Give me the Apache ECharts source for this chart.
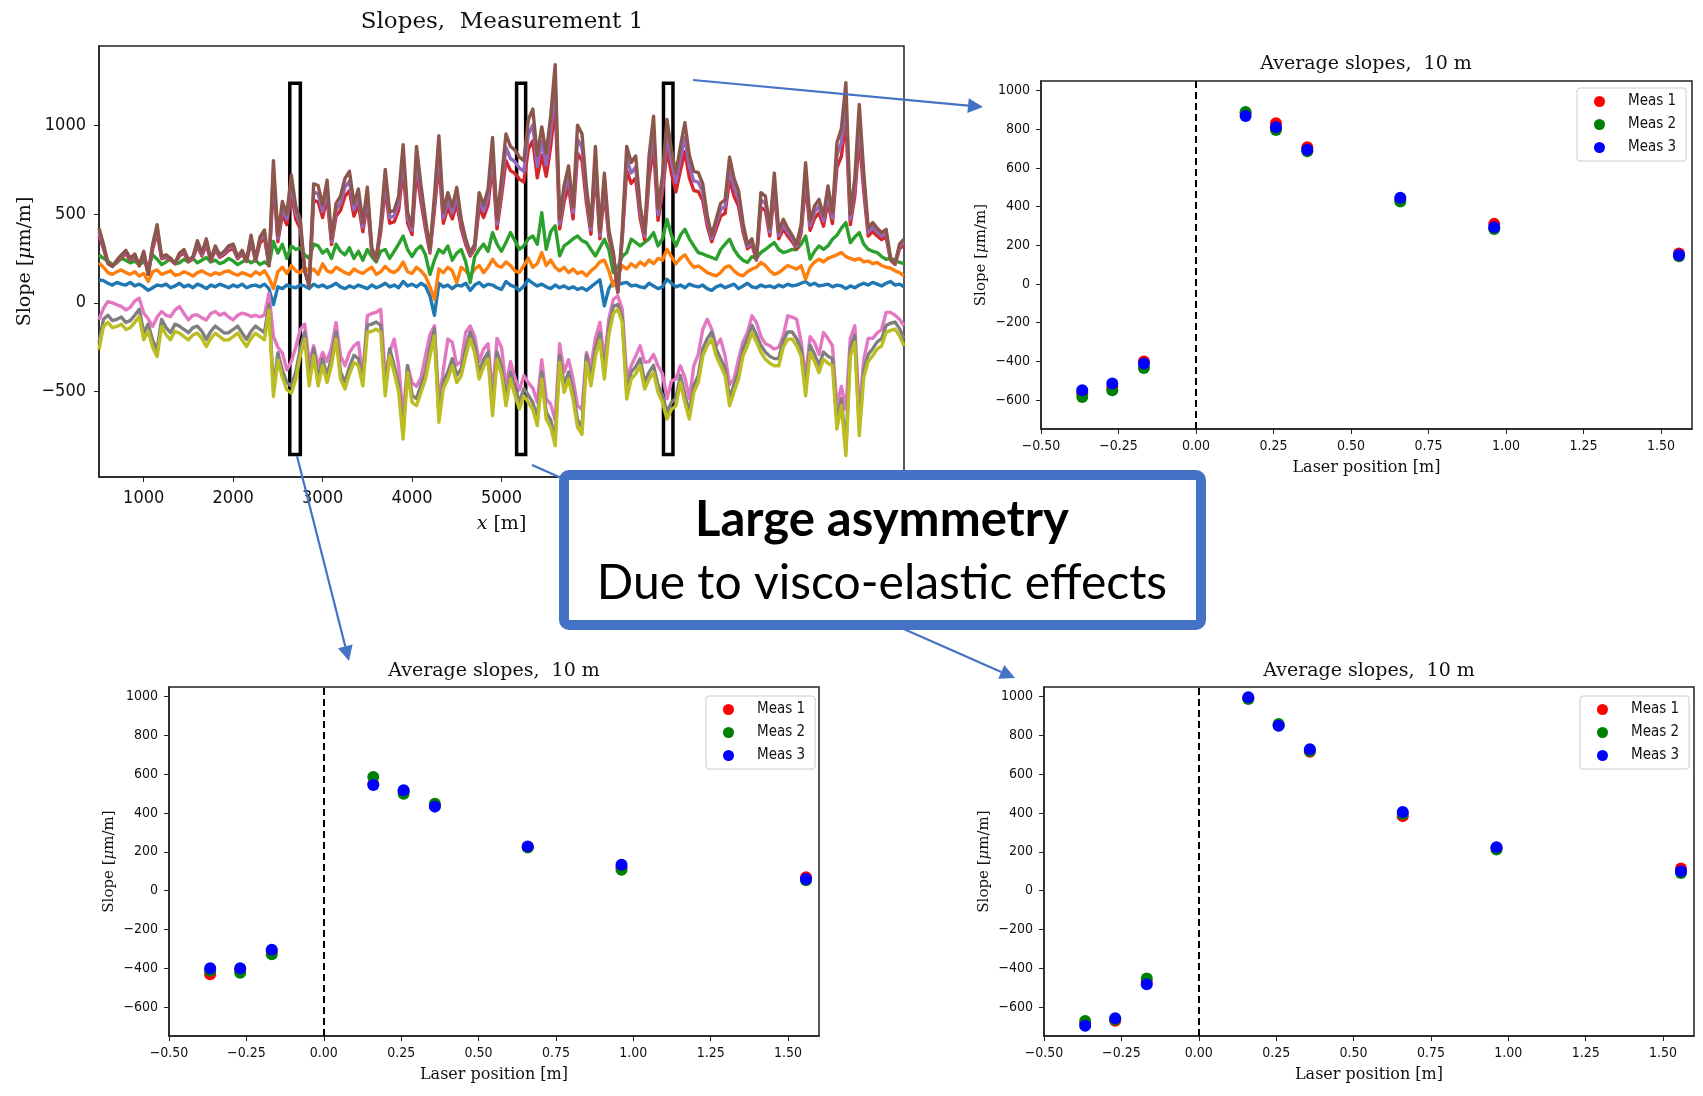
<!DOCTYPE html>
<html><head><meta charset="utf-8">
<script src="https://cdn.jsdelivr.net/npm/echarts@6/dist/echarts.min.js"></script>
<style>html,body{margin:0;padding:0;background:#fff}#c{width:1703px;height:1096px}</style>
</head><body><div id="c"></div>
<script>
// ---------- main chart data: position x [m], slope [µm/m] per laser ----------
const xs = [500,550,600,650,700,750,800,850,900,950,1000,1050,1100,1150,1200,1250,1300,1350,1400,1450,
1500,1550,1600,1650,1700,1750,1800,1850,1900,1950,2000,2050,2100,2150,2200,2250,2300,2350,2400,2450,
2500,2550,2600,2650,2700,2750,2800,2850,2900,2950,3000,3050,3100,3150,3200,3250,3300,3350,3400,3450,
3500,3550,3600,3650,3700,3750,3800,3850,3900,3950,4000,4050,4100,4150,4200,4250,4300,4350,4400,4450,
4500,4550,4600,4650,4700,4750,4800,4850,4900,4950,5000,5050,5100,5150,5200,5250,5300,5350,5400,5450,
5500,5550,5600,5650,5700,5750,5800,5850,5900,5950,6000,6050,6100,6150,6200,6250,6300,6350,6400,6450,
6500,6550,6600,6650,6700,6750,6800,6850,6900,6950,7000,7050,7100,7150,7200,7250,7300,7350,7400,7450,
7500,7550,7600,7650,7700,7750,7800,7850,7900,7950,8000,8050,8100,8150,8200,8250,8300,8350,8400,8450,
8500,8550,8600,8650,8700,8750,8800,8850,8900,8950,9000,9050,9100,9150,9200,9250,9300,9350,9400,9450,9500];

const laserBlue = [130,125,110,100,115,105,100,115,95,105, 90,70,85,100,95,105,85,95,110,90,
100,85,105,95,80,100,90,105,95,85, 100,90,105,85,95,100,90,105,80,-10,
90,80,100,90,85,100,95,80,105,90, 100,85,95,110,90,80,95,85,100,90,
80,100,85,95,110,90,100,85,120,95, 105,90,110,95,40,-70,110,90,100,80,
100,95,110,70,100,115,90,105,100,85, 75,120,100,90,70,95,130,110,95,105,
90,80,100,85,95,80,90,75,85,70, 90,110,130,-17,80,120,100,110,115,95,
100,90,85,110,95,80,90,133,110,90, 100,85,105,95,90,100,80,70,90,100,
85,95,105,80,95,110,90,85,100,90, 95,85,100,90,105,95,100,110,120,100,
110,95,100,105,90,100,95,80,95,85, 100,110,100,115,105,95,110,120,100,105, 90];
const laserOrange = [225,200,170,160,175,185,170,160,175,150, 165,120,175,185,160,170,180,155,160,175,
165,150,170,180,165,155,170,160,175,180, 165,155,170,160,150,175,160,180,140,80,
175,200,165,210,180,170,200,175,190,160, 220,180,170,200,185,170,160,190,175,165,
185,200,160,175,205,180,170,190,230,175, 165,200,180,150,90,20,190,170,200,180,
114,200,180,150,190,210,170,200,245,210, 200,230,210,180,170,210,250,200,220,283,
210,240,200,180,200,170,190,165,175,152, 180,200,230,240,180,95,150,210,190,220,
200,230,210,240,220,250,240,301,260,220, 250,270,230,200,208,190,170,160,152,170,
200,208,180,160,152,175,190,200,227,210, 180,160,170,190,210,200,190,208,133,200,
230,245,230,250,260,270,283,260,250,240, 250,230,235,220,227,210,200,195,180,170, 152];
const laserGreen = [270,250,235,215,225,250,240,225,235,215, 230,205,270,245,215,230,250,220,225,245,
230,250,225,240,255,230,240,220,230,250, 235,215,230,245,225,240,215,230,210,345,
280,330,250,320,300,310,270,250,330,320, 280,300,250,330,290,270,310,250,290,240,
300,260,230,290,300,250,290,330,376,300, 260,300,320,270,160,240,300,280,320,240,
280,300,230,114,260,300,330,290,395,330, 290,340,395,350,301,320,360,376,330,507,
301,400,433,264,320,339,360,376,350,339, 300,264,310,358,300,170,200,260,283,358,
340,320,340,360,395,320,360,470,380,320, 380,414,360,320,283,275,264,255,245,300,
330,358,300,264,240,227,260,250,283,300, 320,339,300,283,290,301,300,330,376,245,
290,320,301,320,358,380,420,451,339,370, 395,330,301,290,283,260,245,250,240,227, 220];
const laserRed = [376,304,220,205,232,256,276,240,260,208, 272,160,304,392,248,256,240,220,264,280,
232,248,320,264,328,236,296,256,272,296, 304,248,276,232,344,236,336,368,208,680,
344,496,440,616,472,416,180,95,576,568, 480,592,328,488,520,600,632,488,552,400,
560,288,240,400,640,448,456,520,752,448, 384,744,568,416,280,520,792,448,536,472,
560,416,328,264,304,536,480,552,784,416, 600,800,744,728,696,680,864,912,704,832,
712,880,1112,416,568,656,472,840,800,560, 386,744,360,624,368,266,60,360,744,672,
701,476,356,701,880,464,616,866,728,624, 744,850,704,632,626,576,432,344,416,488,
504,696,600,544,400,304,328,240,536,520, 376,624,360,416,376,344,304,392,670,408,
476,506,431,566,446,760,824,1030,440,600, 933,626,376,401,376,356,371,240,216,304, 326];
const laserPurple = [398,317,223,205,236,263,286,245,268,209, 281,164,317,416,254,263,245,223,272,290,
236,254,335,272,344,241,308,263,281,308, 317,254,286,236,362,241,353,389,209,740,
362,533,470,668,506,443,182,96,623,614, 515,641,344,524,560,650,686,524,596,425,
605,299,245,425,695,479,488,560,821,479, 407,812,614,443,290,560,866,479,578,506,
605,443,344,272,317,578,515,596,857,443, 650,875,812,794,758,740,947,1001,767,911,
776,965,1226,443,614,713,506,920,875,605, 410,812,380,677,389,275,60,380,812,731,
763,511,376,763,965,497,668,949,794,677, 812,932,767,686,679,623,461,362,443,524,
542,758,650,587,425,317,344,245,578,560, 398,677,380,443,398,362,317,416,729,434,
511,544,460,611,476,830,902,1134,470,650, 1024,679,398,426,398,376,393,245,218,317, 342];
const laserBrown = [420,330,225,205,240,270,295,250,275,210, 290,160,330,440,260,270,250,225,280,300,
240,260,350,280,360,245,320,270,290,320, 330,260,295,240,380,245,370,410,210,800,
380,570,500,720,540,470,180,95,670,660, 550,690,360,560,600,700,740,560,640,450,
650,310,250,450,750,510,520,600,890,510, 430,880,660,470,300,600,940,510,620,540,
650,470,360,280,330,620,550,640,930,470, 700,950,880,860,820,800,1030,1090,830,990,
840,1050,1340,470,660,770,540,1000,950,650, 433,880,400,730,410,283,60,400,880,790,
826,545,395,826,1050,530,720,1032,860,730, 880,1013,830,740,732,670,490,380,470,560,
580,820,700,630,450,330,360,250,620,600, 420,730,400,470,420,380,330,440,788,460,
545,582,489,657,507,900,980,1238,500,700, 1116,732,420,451,420,395,414,250,220,330, 358];
const laserPink = [-96,-30,7,0,-11,-20,-40,-25,10,26, -58,-90,-133,-80,-49,-70,-77,-40,-21,-60,
-96,-70,-68,-85,-96,-60,-49,-70,-58,-80, -96,-70,-58,-65,-77,-70,-80,-68,54,-189,
-250,-283,-377,-330,-250,-150,-120,-335,-242,-354, -279,-330,-250,-111,-298,-354,-280,-242,-223,-410,
-73,-60,-54,-36,-420,-279,-204,-354,-640,-354, -450,-470,-420,-298,-180,-129,-560,-380,-204,-223,
-350,-330,-167,-130,-190,-330,-260,-230,-520,-200, -250,-470,-330,-420,-490,-410,-450,-480,-560,-320,
-540,-570,-660,-230,-390,-320,-430,-580,-600,-279, -360,-200,-110,-330,-90,20,39,-36,-420,-354,
-300,-242,-335,-330,-290,-354,-400,-540,-440,-429, -354,-420,-540,-354,-290,-150,-92,-148,-242,-204,
-300,-460,-429,-317,-220,-167,-73,-110,-190,-230, -242,-260,-250,-186,-73,-80,-92,-220,-420,-190,
-223,-290,-167,-200,-242,-580,-470,-600,-200,-129, -620,-320,-200,-200,-170,-150,-54,-54,-70,-92, -129];
const laserGray = [-224,-93,-70,-100,-93,-80,-110,-100,-70,-37, -168,-120,-210,-262,-93,-140,-168,-120,-131,-150,
-168,-140,-131,-160,-206,-160,-131,-150,-170,-168, -150,-131,-170,-206,-160,-131,-150,-168,-10,-487,
-281,-380,-449,-468,-390,-260,-164,-427,-258,-427, -314,-408,-310,-164,-389,-445,-360,-295,-314,-427,
-127,-120,-108,-127,-483,-258,-352,-460,-726,-352, -520,-539,-464,-389,-260,-146,-632,-440,-389,-314,
-408,-370,-260,-164,-240,-389,-320,-277,-595,-277, -360,-539,-389,-480,-558,-483,-520,-560,-651,-389,
-614,-660,-764,-295,-464,-389,-501,-660,-700,-295, -427,-260,-170,-389,-140,-20,-10,-80,-501,-389,
-360,-314,-445,-390,-352,-464,-520,-614,-560,-539, -408,-520,-614,-464,-408,-260,-202,-164,-260,-314,
-370,-539,-460,-389,-260,-202,-127,-180,-239,-277, -300,-314,-314,-210,-164,-164,-202,-260,-483,-239,
-290,-352,-277,-300,-314,-670,-539,-820,-260,-183, -707,-380,-290,-258,-220,-202,-127,-115,-108,-145, -202];
const laserOlive = [-264,-133,-110,-140,-133,-120,-150,-140,-110,-77, -208,-160,-250,-302,-133,-180,-208,-160,-171,-190,
-208,-180,-171,-200,-246,-200,-171,-190,-210,-208, -190,-171,-210,-246,-200,-171,-190,-208,-40,-527,
-321,-420,-489,-508,-430,-300,-204,-467,-298,-467, -354,-448,-350,-204,-429,-485,-400,-335,-354,-467,
-167,-160,-148,-167,-523,-298,-392,-500,-766,-392, -560,-579,-504,-429,-300,-186,-672,-480,-429,-354,
-448,-410,-300,-204,-280,-429,-360,-317,-635,-317, -400,-579,-429,-520,-598,-523,-560,-600,-691,-429,
-654,-700,-804,-335,-504,-429,-541,-700,-740,-335, -467,-300,-210,-429,-180,-60,-36,-111,-541,-429,
-400,-354,-485,-430,-392,-504,-560,-654,-600,-579, -448,-560,-654,-504,-448,-300,-242,-204,-300,-354,
-410,-579,-500,-429,-300,-242,-167,-220,-279,-317, -340,-354,-354,-250,-204,-204,-242,-300,-523,-279,
-330,-392,-317,-340,-354,-710,-579,-860,-300,-223, -747,-420,-330,-298,-260,-242,-167,-155,-148,-185, -242];

const mainSeries = [laserBlue, laserOrange, laserGreen, laserRed, laserPurple, laserBrown, laserPink, laserGray, laserOlive];
const mainColors = ['#1f77b4','#ff7f0e','#2ca02c','#d62728','#9467bd','#8c564b','#e377c2','#7f7f7f','#bcbd22'];
const mainXTicks = [1000,2000,3000,4000,5000,6000,7000,8000,9000];
const mainYTicks = [-500,0,500,1000];

// boxes drawn on the main chart (x ranges, and y range)
const boxX = [[2633,2751],[5169,5270],[6811,6917]];
const boxY = [-854, 1236];

// ---------- averaged slopes per laser position ----------
const laserPos = [-0.367,-0.27,-0.168,0.16,0.258,0.359,0.659,0.962,1.558];
// top right (box at ~6860 m)
const trMeas1 = [-565,-535,-401,885,831,707,437,311,158];
const trMeas2 = [-585,-549,-434,890,797,687,427,284,143];
const trMeas3 = [-550,-515,-411,869,811,694,446,293,150];
// bottom left (box at ~2690 m)
const blMeas1 = [-431,-410,-315,550,512,440,225,120,69];
const blMeas2 = [-414,-424,-328,586,500,448,222,107,53];
const blMeas3 = [-400,-400,-305,545,517,433,228,133,60];
// bottom right (box at ~5220 m)
const brMeas1 = [-685,-671,-470,992,853,716,384,220,114];
const brMeas2 = [-672,-665,-453,988,859,720,395,212,91];
const brMeas3 = [-697,-659,-483,997,850,729,405,224,100];

const smallXTicks = [-0.5,-0.25,0,0.25,0.5,0.75,1.0,1.25,1.5];
const smallYTicks = [-600,-400,-200,0,200,400,600,800,1000];
const measNames = ['Meas 1','Meas 2','Meas 3'];
const measColors = ['#ff0000','#008000','#0000ff'];

// ---------- styling ----------
const SERIF = "'DejaVu Serif','Liberation Serif',serif";
const COND = "'DejaVu Sans Condensed','Liberation Sans Narrow','DejaVu Sans',sans-serif";
const plainFmt = v => String(v);
const minusFmt = v => (v < 0 ? '\u2212' + Math.abs(v) : '' + v);
const minusFmt2 = v => (v < 0 ? '\u2212' : '') + Math.abs(v).toFixed(2);

const chart = echarts.init(document.getElementById('c'), null, {renderer: 'canvas'});

const grids = [
  {left: 99, top: 46, width: 805, height: 431},
  {left: 1041, top: 81, width: 651, height: 348},
  {left: 169, top: 687, width: 650, height: 349},
  {left: 1044, top: 687, width: 650, height: 349}
].map(g => Object.assign(g, {show: true, borderColor: '#222', borderWidth: 1.5, backgroundColor: 'transparent'}));

function axisBase(extra) {
  return Object.assign({
    type: 'value',
    splitLine: {show: false},
    axisLine: {show: true, onZero: false, lineStyle: {color: '#222', width: 1.5}},
  }, extra);
}

const xAxes = [
  axisBase({gridIndex: 0, min: 500, max: 9500,
    axisTick: {show: true, length: 5, customValues: mainXTicks, lineStyle: {color: '#222'}},
    axisLabel: {customValues: mainXTicks, margin: 12, fontFamily: COND, fontSize: 18, color: '#111', formatter: plainFmt},
    name: '{i|x} [m]', nameLocation: 'middle', nameGap: 38,
    nameTextStyle: {rich: {i: {fontFamily: SERIF, fontStyle: 'italic', fontSize: 19, color: '#111'}},
      fontFamily: SERIF, fontSize: 19, color: '#111'}})
];
const yAxes = [
  axisBase({gridIndex: 0, min: -980, max: 1445,
    axisTick: {show: true, length: 5, customValues: mainYTicks, lineStyle: {color: '#222'}},
    axisLabel: {customValues: mainYTicks, margin: 13, fontFamily: COND, fontSize: 18, color: '#111', formatter: minusFmt},
    name: 'Slope [{i|\u03bc}m/m]', nameLocation: 'middle', nameGap: 64,
    nameTextStyle: {rich: {i: {fontFamily: SERIF, fontStyle: 'italic', fontSize: 19, color: '#111'}},
      fontFamily: SERIF, fontSize: 19, color: '#111'}})
];
for (let g = 1; g <= 3; g++) {
  xAxes.push(axisBase({gridIndex: g, min: -0.5, max: 1.6,
    axisTick: {show: true, length: 5, customValues: smallXTicks, lineStyle: {color: '#222'}},
    axisLabel: {customValues: smallXTicks, margin: 10, fontFamily: COND, fontSize: 14, color: '#111', formatter: minusFmt2},
    name: 'Laser position [m]', nameLocation: 'middle', nameGap: 31,
    nameTextStyle: {fontFamily: SERIF, fontSize: 16, color: '#111'}}));
  yAxes.push(axisBase({gridIndex: g, min: -750, max: 1050,
    axisTick: {show: true, length: 5, customValues: smallYTicks, lineStyle: {color: '#222'}},
    axisLabel: {customValues: smallYTicks, margin: 11, fontFamily: COND, fontSize: 14, color: '#111', formatter: minusFmt},
    name: 'Slope [{i|\u03bc}m/m]', nameLocation: 'middle', nameGap: 52,
    nameTextStyle: {rich: {i: {fontFamily: SERIF, fontStyle: 'italic', fontSize: 15, color: '#111'}},
      fontFamily: SERIF, fontSize: 15, color: '#111'}}));
}

const series = [];
mainSeries.forEach((vals, k) => {
  series.push({type: 'line', xAxisIndex: 0, yAxisIndex: 0, name: 'laser' + (k + 1),
    data: xs.map((x, i) => [x, vals[i]]), showSymbol: false, symbol: 'none',
    lineStyle: {color: mainColors[k], width: 3.4, join: 'round'}, itemStyle: {color: mainColors[k]},
    z: 2 + k * 0.01, silent: true});
});
// boxes on main chart
series.push({type: 'line', xAxisIndex: 0, yAxisIndex: 0, data: [], z: 6, silent: true,
  markArea: {silent: true, itemStyle: {color: 'rgba(255,255,255,0.3)', borderColor: '#000', borderWidth: 3.5},
    data: boxX.map(b => [{coord: [b[0], boxY[1]]}, {coord: [b[1], boxY[0]]}])}});

const panels = [
  [1, [trMeas1, trMeas2, trMeas3]],
  [2, [blMeas1, blMeas2, blMeas3]],
  [3, [brMeas1, brMeas2, brMeas3]]
];
panels.forEach(([g, meas]) => {
  meas.forEach((vals, m) => {
    const s = {type: 'scatter', xAxisIndex: g, yAxisIndex: g, name: measNames[m],
      data: laserPos.map((p, i) => [p, vals[i]]), symbol: 'circle', symbolSize: 12,
      itemStyle: {color: measColors[m], opacity: 1}, z: 3 + m, silent: true};
    if (m === 0) {
      s.markLine = {silent: true, symbol: 'none', label: {show: false},
        lineStyle: {color: '#000', type: [7, 4], width: 2}, data: [{xAxis: 0}]};
    }
    series.push(s);
  });
});

const legendPos = [[1577, 88], [706, 696], [1580, 696]];
const legends = legendPos.map(p => ({
  left: p[0], top: p[1], orient: 'vertical', data: measNames, selectedMode: false,
  icon: 'circle', itemWidth: 11, itemHeight: 11, itemGap: 8,
  padding: [6, 10, 6, 17], backgroundColor: '#fff', borderColor: '#ccc', borderWidth: 1, borderRadius: 3,
  textStyle: {fontFamily: COND, fontSize: 15, color: '#111', padding: [0, 0, 0, 18]}
}));

const titles = [
  {text: 'Slopes,  Measurement 1', left: 502, top: 11, size: 23},
  {text: 'Average slopes,  10 m', left: 1366, top: 55, size: 19},
  {text: 'Average slopes,  10 m', left: 494, top: 662, size: 19},
  {text: 'Average slopes,  10 m', left: 1369, top: 662, size: 19}
].map(t => ({text: t.text, left: t.left, top: t.top, textAlign: 'center', padding: 0,
  textStyle: {fontFamily: SERIF, fontWeight: 'normal', fontSize: t.size, color: '#111'}}));

// ---------- annotations (arrows + callout) ----------
const BLUE = '#4472C4';
function arrow(x1, y1, x2, y2) {
  const dx = x2 - x1, dy = y2 - y1, L = Math.hypot(dx, dy), ux = dx / L, uy = dy / L;
  const hl = 15, hw = 7.5, bx = x2 - ux * hl, by = y2 - uy * hl;
  return [
    {type: 'line', z: 50, shape: {x1, y1, x2: bx, y2: by}, style: {stroke: BLUE, lineWidth: 2.2}},
    {type: 'polygon', z: 50, shape: {points: [[x2, y2], [bx - uy * hw, by + ux * hw], [bx + uy * hw, by - ux * hw]]}, style: {fill: BLUE}}
  ];
}
const graphic = [].concat(
  arrow(693, 80, 983, 107),
  arrow(297, 456, 349, 661),
  arrow(532, 465, 1015, 678),
  [
    {type: 'rect', z: 60, shape: {x: 564, y: 475, width: 637, height: 150, r: 5},
      style: {fill: '#fff', stroke: BLUE, lineWidth: 10}},
    {type: 'text', z: 61, x: 882, y: 520, style: {text: 'Large asymmetry', fill: '#000',
      font: "bold 49px Lato, 'Open Sans', sans-serif", textAlign: 'center', textVerticalAlign: 'middle'}},
    {type: 'text', z: 61, x: 882, y: 584, style: {text: 'Due to visco-elastic effects', fill: '#000',
      font: "48px Lato, 'Open Sans', sans-serif", textAlign: 'center', textVerticalAlign: 'middle'}}
  ]
);

chart.setOption({
  animation: false,
  backgroundColor: '#fff',
  title: titles,
  legend: legends,
  grid: grids,
  xAxis: xAxes,
  yAxis: yAxes,
  series: series,
  graphic: graphic
});
</script>
</body></html>
